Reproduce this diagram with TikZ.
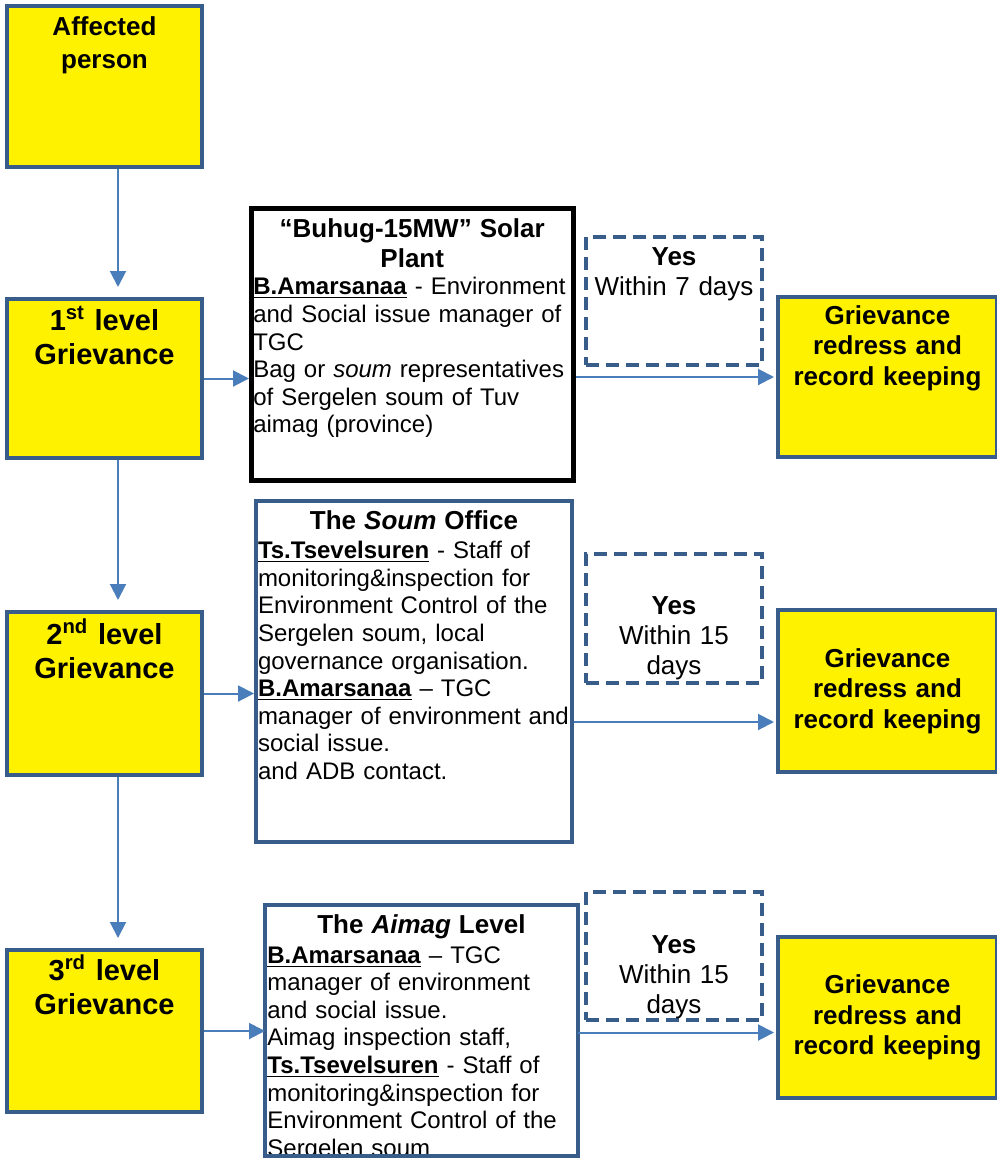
\documentclass[tikz,border=0pt]{standalone}
\usepackage{fontspec}
\setmainfont{Liberation Sans}
\usetikzlibrary{arrows.meta}
\definecolor{boxblue}{HTML}{385D8A}
\definecolor{flowblue}{HTML}{4A7EBB}
\newcommand\boxhead{\fontsize{13}{15}\selectfont\bfseries}
\tikzset{
	lvl/.style={draw=boxblue, line width=2pt, fill=yellow, anchor=north west,
		align=center, text width=89.5pt, inner xsep=4pt, inner ysep=2pt,
		font=\fontsize{14.5}{17}\selectfont\bfseries},
	res/.style={draw=boxblue, line width=2pt, fill=yellow, anchor=north west,
		align=center, text width=101.5pt, inner xsep=4pt, inner ysep=2pt,
		font=\fontsize{13}{15.25}\selectfont\bfseries},
	yesbox/.style={draw=boxblue, line width=2pt, dash pattern=on 6.5pt off 3.5pt,
		anchor=north west, align=center, text width=84pt, inner xsep=2pt,
		inner ysep=2pt, font=\fontsize{13}{15}\selectfont},
	info/.style={anchor=north west, align=left, inner xsep=1pt, inner ysep=2pt,
		font=\fontsize{12}{13.8}\selectfont},
	infoline/.style={draw=boxblue, line width=2pt},
	flow/.style={->, draw=flowblue, line width=1pt}
}
\begin{document}
\begin{tikzpicture}[x=0.5pt, y=-0.5pt, line join=miter,
	>={Triangle[length=8pt,width=8pt]}]
	\useasboundingbox (0,0) rectangle (997,1158);
	\path
	(5,4) coordinate (A)
	(5,297) coordinate (L1)
	(5,610) coordinate (L2)
	(5,948) coordinate (L3)
	(118,0) coordinate (V)
	(249,206) coordinate (S)
	(254,499) coordinate (M)
	(265,905) coordinate (K)
	(584,235) coordinate (Y1)
	(584,552) coordinate (Y2)
	(584,890) coordinate (Y3)
	(776,295) coordinate (R1)
	(776,608) coordinate (R2)
	(776,935) coordinate (R3);
	% grievance levels
	\node[lvl, font=\fontsize{13}{16.5}\selectfont\bfseries,
	text height=12.5pt, text depth=64pt] (aff) at (A) {Affected\\person};
	\node[lvl, text height=13.5pt, text depth=62pt] (lvl1) at (L1)
	{1\textsuperscript{st} level\\Grievance};
	\node[lvl, text height=14pt, text depth=63.5pt] (lvl2) at (L2)
	{2\textsuperscript{nd} level\\Grievance};
	\node[lvl, text height=13pt, text depth=64pt] (lvl3) at (L3)
	{3\textsuperscript{rd} level\\Grievance};
	% who handles it
	\node[info, draw=black, line width=2.25pt, text width=159pt,
	text height=12.5pt, text depth=119.5pt] (solar) at (S)
	{{\centering\boxhead “Buhug-15MW” Solar\\Plant\par}
		\underline{\textbf{B.Amarsanaa}} - Environment\\and Social issue manager of\\TGC\\
		Bag or \textit{soum} representatives\\of Sergelen soum of Tuv\\aimag (province)};
	\node[info, infoline, text width=156pt, text height=12pt, text depth=154.5pt]
	(soum) at (M)
	{{\centering\boxhead The \textit{Soum} Office\par}\vspace{1pt}
		\underline{\textbf{Ts.Tsevelsuren}} - Staff of\\monitoring\&inspection for\\
		Environment Control of the\\Sergelen soum, local\\governance organisation.\\
		\underline{\textbf{B.Amarsanaa}} – TGC\\manager of environment and\\
		social issue.\\and ADB contact.};
	\begin{scope}
		\clip (265,905) rectangle (577,1154);
		\node[info, text width=154pt, text height=12pt, text depth=109pt]
		(aimag) at (K)
		{{\centering\boxhead The \textit{Aimag} Level\par}\vspace{1pt}
			\underline{\textbf{B.Amarsanaa}} – TGC\\manager of environment\\
			and social issue.\\Aimag inspection staff,\\
			\underline{\textbf{Ts.Tsevelsuren}} - Staff of\\monitoring\&inspection for\\
			Environment Control of the\\Sergelen soum};
	\end{scope}
	\draw[infoline] (aimag.north west) rectangle (aimag.south east);
	% time limits
	\node[yesbox, text height=12pt, text depth=48pt] (yes1) at (Y1)
	{\textbf{Yes}\\Within 7 days};
	\node[yesbox, text height=28pt, text depth=32.5pt] (yes2) at (Y2)
	{\textbf{Yes}\\Within 15\\days};
	\node[yesbox, text height=28.5pt, text depth=31.5pt] (yes3) at (Y3)
	{\textbf{Yes}\\Within 15\\days};
	% redress
	\node[res, text height=11.5pt, text depth=64.5pt] (res1) at (R1)
	{Grievance\\redress and\\record keeping};
	\node[res, minimum height=81pt] (res2) at (R2)
	{Grievance\\redress and\\record keeping};
	\node[res, minimum height=80.5pt] (res3) at (R3)
	{Grievance\\redress and\\record keeping};
	% connectors
	\foreach \a/\b in {aff/lvl1,lvl1/lvl2,lvl2/lvl3}
	\draw[flow, shorten >=5pt] (\a.south -| V) -- (\b.north -| V);
	\draw[flow] (lvl1.east) -- (lvl1.east -| solar.west);
	\draw[flow] (lvl2.east) -- (lvl2.east -| soum.west);
	\draw[flow] (lvl3.east) -- (lvl3.east -| aimag.west);
	\coordinate (in1) at (res1.west);
	\coordinate (in2) at ([yshift=-15.5pt]res2.west);
	\coordinate (in3) at ([yshift=-7.5pt]res3.west);
	\draw[flow, shorten >=1pt] (solar.east |- in1) -- (in1);
	\draw[flow, shorten >=1pt] (soum.east |- in2) -- (in2);
	\draw[flow, shorten >=1pt] (aimag.east |- in3) -- (in3);
\end{tikzpicture}
\end{document}
